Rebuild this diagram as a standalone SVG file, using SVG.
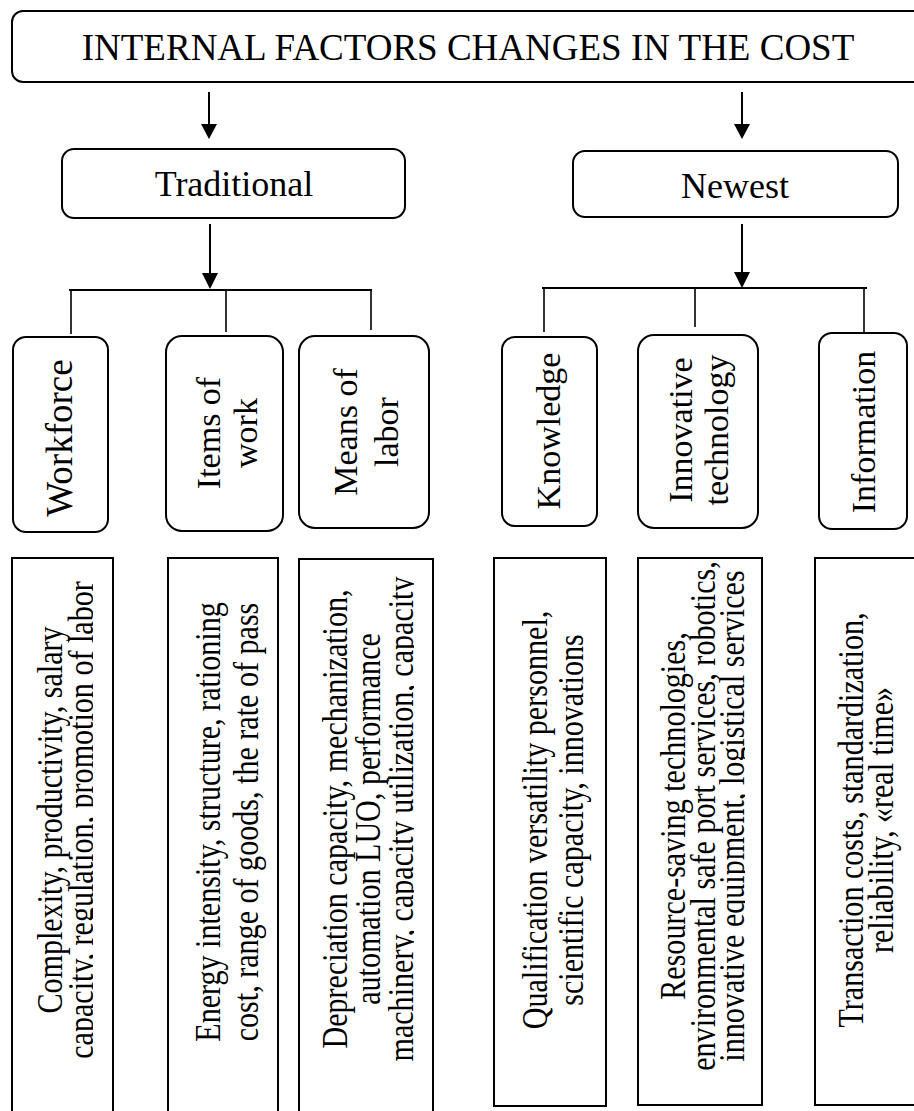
<svg xmlns="http://www.w3.org/2000/svg" width="914" height="1111" viewBox="0 0 914 1111">
<style>
.box{fill:#fff;stroke:#000;stroke-width:2}
.rbox{fill:none;stroke:#000;stroke-width:2}
.ln{stroke:#000;stroke-width:2;fill:none}
.thin{stroke:#000;stroke-width:1.6;fill:none}
text{font-family:"Liberation Serif","Times New Roman",serif;fill:#000}
.lab{font-size:34px}
.det{font-size:35px}
</style>
<defs>
<marker id="ah" viewBox="0 0 16 15" refX="8" refY="15" markerWidth="16" markerHeight="15" markerUnits="userSpaceOnUse" orient="auto-start-reverse">
<path d="M0,0 L16,0 L8,15 Z" fill="#000"/>
</marker>
<clipPath id="c1"><rect x="0" y="540" width="93" height="600"/></clipPath>
<clipPath id="c2"><rect x="290" y="540" width="124" height="600"/></clipPath>
<clipPath id="c3"><rect x="630" y="540" width="115" height="600"/></clipPath>
</defs>

<g id="title">
<rect class="box" x="12" y="11" width="940" height="71" rx="11"/>
<text x="468" y="60" font-size="37" text-anchor="middle">INTERNAL FACTORS CHANGES IN THE COST</text>
</g>

<g id="connectors">
<line class="ln" x1="209" y1="92" x2="209" y2="124"/>
<path d="M201,124 L217,124 L209,139 Z"/>
<line class="ln" x1="742" y1="92" x2="742" y2="124"/>
<path d="M734,124 L750,124 L742,139 Z"/>
<line class="ln" x1="210" y1="224" x2="210" y2="274"/>
<path d="M202,273 L218,273 L210,289 Z"/>
<line class="ln" x1="742" y1="224" x2="742" y2="273"/>
<path d="M734,272 L750,272 L742,288 Z"/>
<line class="ln" x1="69" y1="290" x2="372" y2="290"/>
<line class="thin" x1="71" y1="290" x2="71" y2="334"/>
<line class="thin" x1="226" y1="290" x2="226" y2="332"/>
<line class="thin" x1="371" y1="290" x2="371" y2="330"/>
<line class="ln" x1="542" y1="288" x2="867" y2="288"/>
<line class="thin" x1="544" y1="288" x2="544" y2="332"/>
<line class="thin" x1="695" y1="288" x2="695" y2="327"/>
<line class="thin" x1="864" y1="288" x2="864" y2="332"/>
</g>

<g id="traditional">
<rect class="box" x="62" y="149" width="343" height="69" rx="12"/>
<text x="234" y="196" font-size="36" text-anchor="middle">Traditional</text>
</g>

<g id="newest">
<rect class="box" x="573" y="151" width="325" height="66" rx="12"/>
<text x="735" y="198" font-size="36" text-anchor="middle">Newest</text>
</g>

<g id="workforce">
<rect class="box" x="13" y="337" width="95" height="195" rx="13"/>
<text transform="translate(0,438) rotate(-90)" font-size="37" text-anchor="middle"><tspan x="0" y="72">Workforce</tspan></text>
</g>

<g id="items">
<rect class="box" x="166" y="336" width="117" height="195" rx="16"/>
<text class="lab" transform="translate(0,433) rotate(-90)" text-anchor="middle"><tspan x="0" y="220">Items of</tspan><tspan x="0" y="257">work</tspan></text>
</g>

<g id="means">
<rect class="box" x="299" y="336" width="130" height="192" rx="16"/>
<text class="lab" transform="translate(0,432) rotate(-90)" text-anchor="middle"><tspan x="0" y="357">Means of</tspan><tspan x="0" y="398">labor</tspan></text>
</g>

<g id="knowledge">
<rect class="box" x="502" y="337" width="95" height="189" rx="13"/>
<text class="lab" transform="translate(0,431) rotate(-90)" text-anchor="middle"><tspan x="0" y="560">Knowledge</tspan></text>
</g>

<g id="innovative">
<rect class="box" x="638" y="335" width="120" height="193" rx="16"/>
<text class="lab" transform="translate(0,430) rotate(-90)" text-anchor="middle"><tspan x="0" y="692">Innovative</tspan><tspan x="0" y="728">technology</tspan></text>
</g>

<g id="information">
<rect class="box" x="819" y="333" width="88" height="196" rx="13"/>
<text class="lab" transform="translate(0,432) rotate(-90)" text-anchor="middle"><tspan x="0" y="875">Information</tspan></text>
</g>

<g id="d-workforce">
<rect class="rbox" x="12" y="558" width="101" height="570"/>
<g clip-path="url(#c1)">
<text class="det" transform="translate(0,820) rotate(-90) scale(0.86,1)" text-anchor="middle"><tspan x="0" y="62">Complexity, productivity, salary</tspan><tspan x="0" y="93">capacity, regulation, promotion of labor</tspan></text>
</g>
</g>

<g id="d-items">
<rect class="rbox" x="168" y="558" width="110" height="570"/>
<text class="det" transform="translate(0,822) rotate(-90) scale(0.86,1)" text-anchor="middle"><tspan x="0" y="220">Energy intensity, structure, rationing</tspan><tspan x="0" y="258">cost, range of goods, the rate of pass</tspan></text>
</g>

<g id="d-means">
<rect class="rbox" x="299" y="559" width="134" height="570"/>
<g clip-path="url(#c2)">
<text class="det" transform="translate(0,819) rotate(-90) scale(0.86,1)" text-anchor="middle"><tspan x="0" y="347">Depreciation capacity, mechanization,</tspan><tspan x="0" y="380">automation LUO, performance</tspan><tspan x="0" y="413">machinery, capacity utilization, capacity</tspan></text>
</g>
</g>

<g id="d-knowledge">
<rect class="rbox" x="494" y="558" width="112" height="548"/>
<text class="det" transform="translate(0,820) rotate(-90) scale(0.86,1)" text-anchor="middle"><tspan x="0" y="547">Qualification versatility personnel,</tspan><tspan x="0" y="583">scientific capacity, innovations</tspan></text>
</g>

<g id="d-innovative">
<rect class="rbox" x="638" y="558" width="124" height="547"/>
<g clip-path="url(#c3)">
<text class="det" transform="translate(0,816) rotate(-90) scale(0.86,1)" text-anchor="middle"><tspan x="0" y="685">Resource-saving technologies,</tspan><tspan x="0" y="715">environmental safe port services, robotics,</tspan><tspan x="0" y="744">innovative equipment, logistical services</tspan></text>
</g>
</g>

<g id="d-information">
<rect class="rbox" x="815" y="558" width="140" height="547"/>
<text class="det" transform="translate(0,820) rotate(-90) scale(0.86,1)" text-anchor="middle"><tspan x="0" y="863">Transaction costs, standardization,</tspan><tspan x="0" y="893">reliability, «real time»</tspan></text>
</g>
</svg>
